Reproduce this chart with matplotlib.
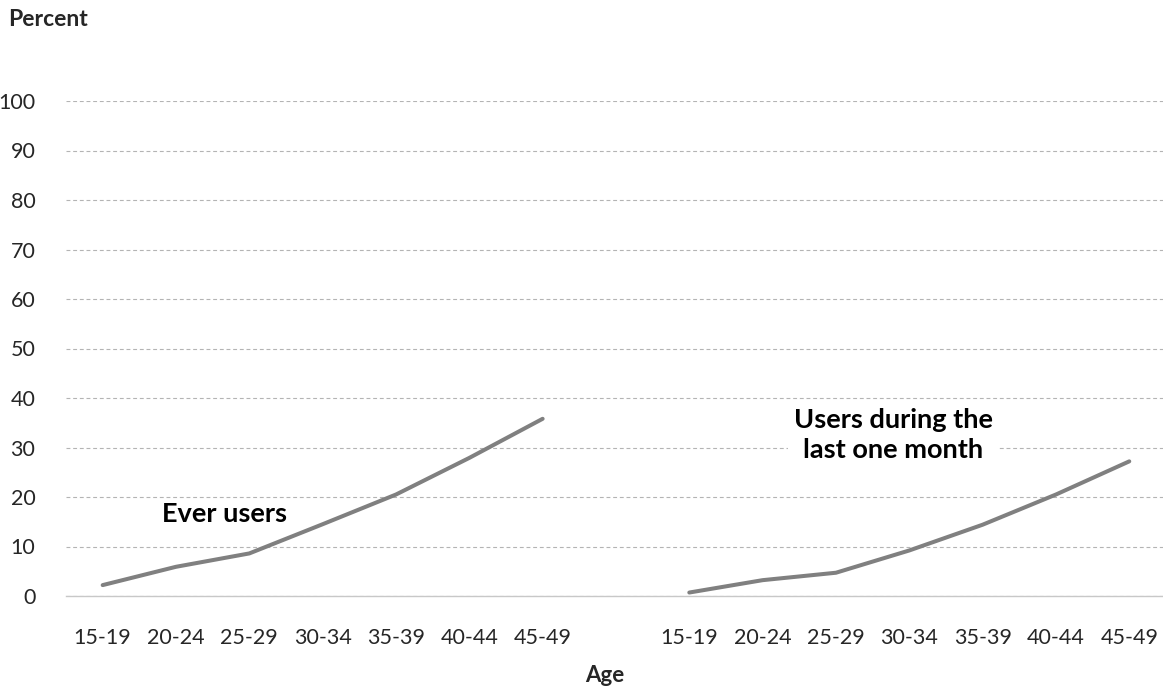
import numpy as np
import matplotlib.pyplot as plt

# age groups and percentages for both panels
age_groups = ['15-19', '20-24', '25-29', '30-34', '35-39', '40-44', '45-49']
ever_users = [2.2, 5.9, 8.6, 14.5, 20.5, 27.9, 35.8]
last_month_users = [0.7, 3.2, 4.7, 9.2, 14.4, 20.5, 27.2]
y_ticks = [0, 10, 20, 30, 40, 50, 60, 70, 80, 90, 100]

plt.rcParams['font.family'] = ['Lato', 'DejaVu Sans']

line_color = '#808080'
text_color = '#262626'

fig = plt.figure(figsize=(11.63, 6.88), dpi=100)
ax = fig.add_axes([66 / 1163, 1 - 596 / 688, 1 - 66 / 1163, (596 - 101) / 688])

# one blank category separates the two groups
n = len(age_groups)
x_left = np.arange(n)
x_right = np.arange(n) + n + 1

ax.plot(x_left, ever_users, color=line_color, lw=2.9, solid_capstyle='round')
ax.plot(x_right, last_month_users, color=line_color, lw=2.9, solid_capstyle='round')

ax.set_xlim(-0.5, 2 * n + 0.46)
ax.set_ylim(0, 100)
ax.set_yticks(y_ticks)
ax.set_xticks(list(x_left) + list(x_right))
ax.set_xticklabels(age_groups + age_groups)

ax.grid(axis='y', color='#b4b4b4', linestyle=(0, (3.5, 2.5)), linewidth=0.8)
ax.set_axisbelow(True)
for side in ['top', 'right', 'left']:
    ax.spines[side].set_visible(False)
ax.spines['bottom'].set_color('#c8c8c8')
ax.spines['bottom'].set_linewidth(1.0)

ax.tick_params(axis='both', length=0, labelcolor=text_color)
ax.tick_params(axis='y', pad=22, labelsize=15.5)
ax.tick_params(axis='x', pad=23, labelsize=15.5)

ax.text(1.66, 16.6, 'Ever users', ha='center', va='center',
        fontsize=19.5, fontweight='bold', color='black')
ax.text(10.78, 32.5, 'Users during the\nlast one month', ha='center', va='center',
        fontsize=19.5, fontweight='bold', color='black', linespacing=1.3,
        bbox=dict(facecolor='white', edgecolor='none', pad=4))

fig.text(8 / 1163, 1 - 19 / 688, 'Percent', ha='left', va='center',
         fontsize=16.5, fontweight='bold', color=text_color)
fig.text(605 / 1163, 1 - 675 / 688, 'Age', ha='center', va='center',
         fontsize=16, fontweight='bold', color=text_color)

fig.savefig('out.png', dpi=100)
